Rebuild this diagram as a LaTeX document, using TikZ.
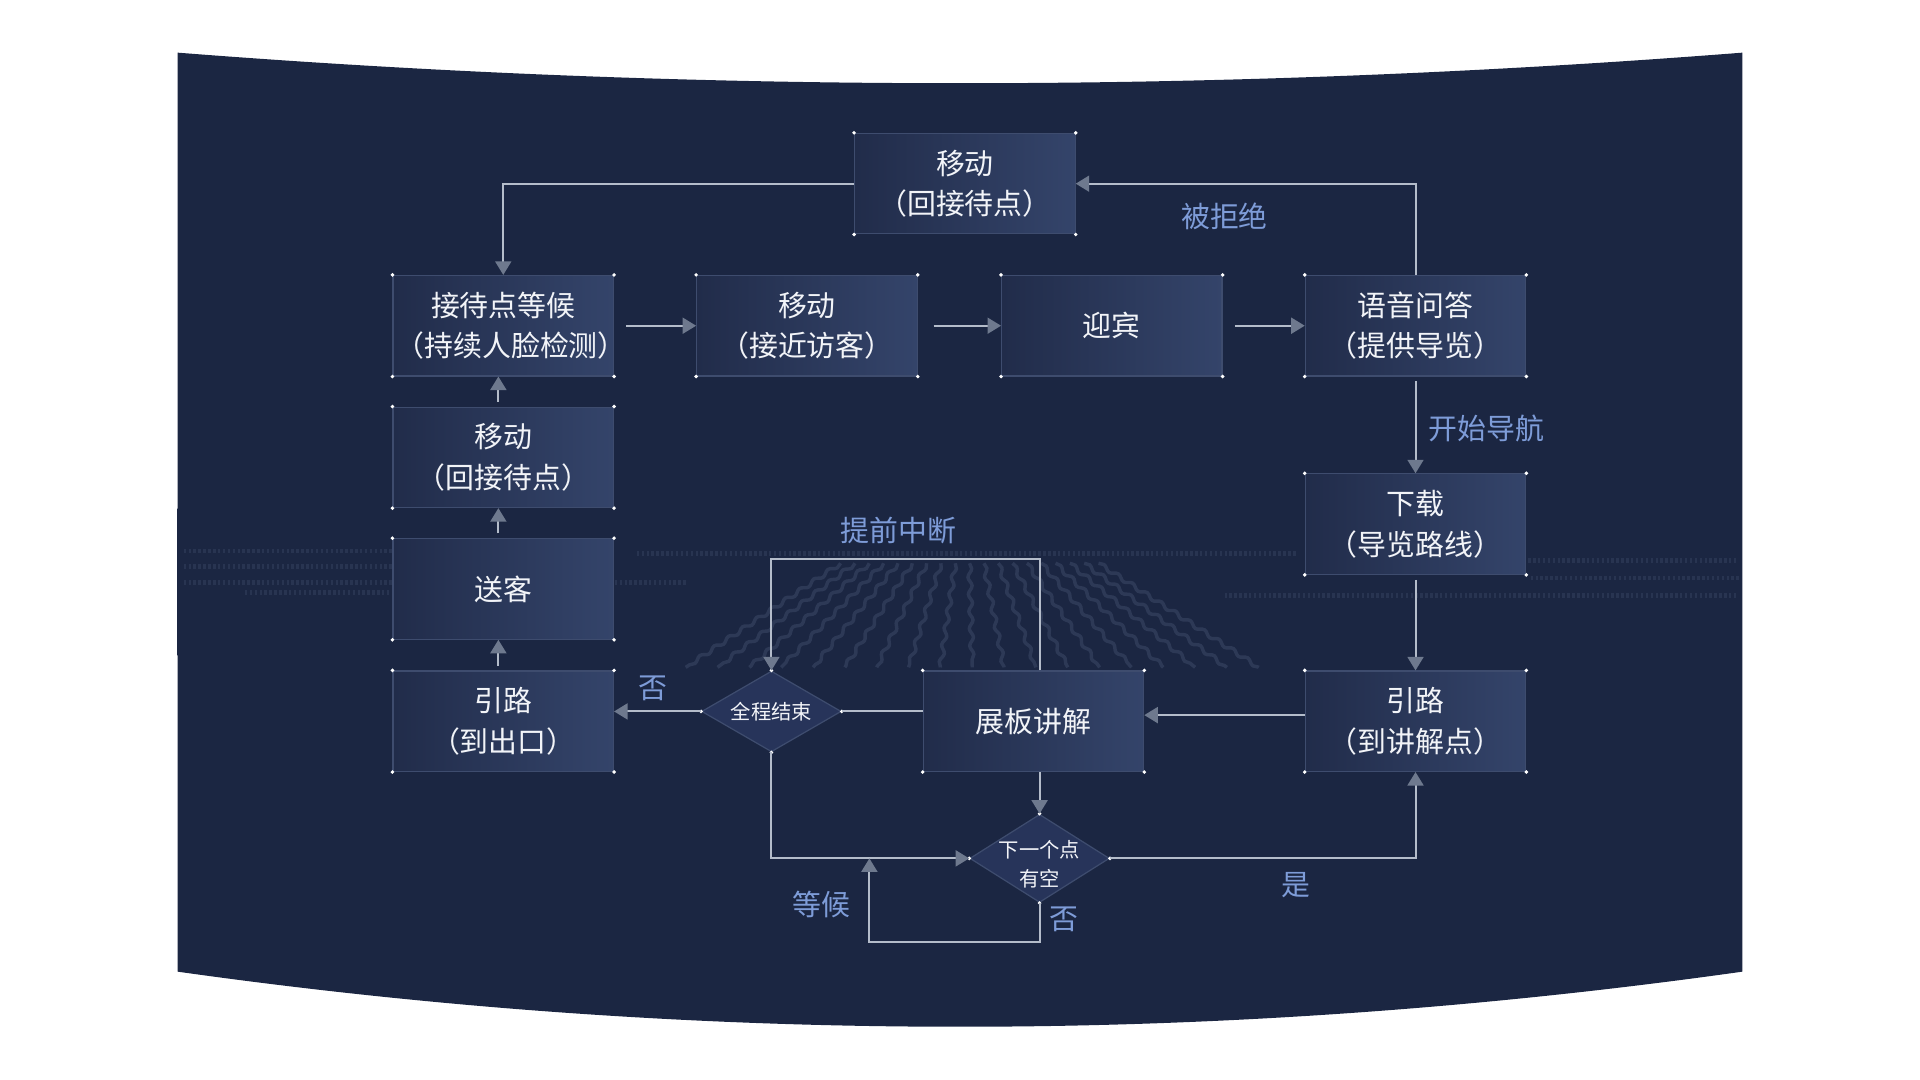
\documentclass[tikz,border=0pt]{standalone}
\usepackage{fontspec}
\setmainfont{Noto Sans CJK SC}
\usetikzlibrary{arrows.meta,shapes.geometric,calc,decorations.pathmorphing}
\definecolor{bgnavy}{HTML}{1B2642}
\definecolor{bandc}{HTML}{2D3B5C}
\definecolor{boxA}{HTML}{212C4A}
\definecolor{boxB}{HTML}{34446A}
\definecolor{boxD}{HTML}{27345A}
\definecolor{boxline}{HTML}{3E4C6E}
\definecolor{linec}{HTML}{B4BCCA}
\definecolor{tipc}{HTML}{6E798E}
\definecolor{lblc}{HTML}{7E9CD8}
\definecolor{txtc}{HTML}{F2F4F8}
\definecolor{streak}{HTML}{8DA0C4}
\begin{document}
\begin{tikzpicture}[x=0.5pt,y=-0.5pt,
  stepbox/.style={rectangle, draw=boxline, line width=0.5pt, left color=boxA, right color=boxB,
    minimum width=90pt, minimum height=41pt, text width=88pt, inner sep=0pt, align=center, text=txtc,
    font=\fontsize{11.8pt}{16.5pt}\selectfont},
  decide/.style={diamond, draw=boxline, line width=0.5pt, fill=boxD,
    minimum width=57pt, minimum height=35pt, inner sep=0pt},
  dtext/.style={text=txtc, align=center, inner sep=0pt, font=\fontsize{8.3pt}{12pt}\selectfont},
  conn/.style={draw=linec, line width=0.8pt, -{Triangle[length=5.5pt,width=6.5pt,color=tipc]}},
  plainline/.style={draw=linec, line width=0.8pt},
  lbl/.style={text=lblc, inner sep=0pt, font=\fontsize{11.8pt}{14pt}\selectfont}
]
\useasboundingbox (0,0) rectangle (1568,882);
% background panel
\fill[bgnavy] (145,43) .. controls (571,76.3) and (997,76.3) .. (1423,43) -- (1423,793.5)
  .. controls (997,853.5) and (571,853.5) .. (145,793.5) -- cycle;
\begin{scope}
\clip (145,43) .. controls (571,76.3) and (997,76.3) .. (1423,43) -- (1423,793.5)
  .. controls (997,853.5) and (571,853.5) .. (145,793.5) -- cycle;
\shade[top color=bgnavy, middle color=bandc, bottom color=bgnavy] (145,415) rectangle (1423,535);
\foreach \y/\a/\b in {450/150/330, 463/150/320, 476/150/560, 484/200/470, 458/1240/1420, 472/1250/1420, 486/1000/1420, 452/520/1060}
  \draw[streak, opacity=0.12, line width=2pt, dash pattern=on 1pt off 1pt] (\a,\y) -- (\b,\y);
\foreach \i in {0,...,18} {
  \pgfmathsetmacro\bx{560+\i*26}
  \pgfmathsetmacro\tx{790+(\bx-790)*0.45}
  \draw[streak, opacity=0.16, line width=1.4pt, decorate, decoration={snake, amplitude=0.8pt, segment length=7pt}] (\tx,460) -- (\bx,545);
}
\end{scope}

% nodes
\node[stepbox] (mvTop) at (788,150) {移动\\（回接待点）};
\node[stepbox] (wait) at (411,266) {接待点等候\\（持续人脸检测）};
\node[stepbox] (approach) at (659,266) {移动\\（接近访客）};
\node[stepbox] (greet) at (908,266) {迎宾};
\node[stepbox] (qa) at (1156,266) {语音问答\\（提供导览）};
\node[stepbox] (mvBack) at (411,373.5) {移动\\（回接待点）};
\node[stepbox] (send) at (411,481) {送客};
\node[stepbox] (exit) at (411,589) {引路\\（到出口）};
\node[stepbox] (dl) at (1156,428) {下载\\（导览路线）};
\node[stepbox] (guide) at (1156,589) {引路\\（到讲解点）};
\node[stepbox] (board) at (844,589) {展板讲解};
\node[decide, minimum height=33pt, label={[dtext]center:全程结束}] (endD) at (630,581) {};
\node[decide, minimum height=36pt, label={[dtext, yshift=-2.5pt]center:下一个点\\有空}] (nextD) at (849,701) {};
\coordinate (waitJoin) at (710,701);

% corner dots
\foreach \n in {mvTop,wait,approach,greet,qa,mvBack,send,exit,dl,guide,board}
  \foreach \a in {north west,north east,south west,south east}
    \fill[white] (\n.\a) circle (0.8pt);
\foreach \n in {endD,nextD}
  \foreach \a in {north,south,east,west}
    \fill[white] (\n.\a) circle (0.8pt);

% connectors
\draw[conn] (mvTop.west) -| (wait.north);
\draw[conn] (qa.north) |- (mvTop.east);
\draw[conn, shorten <=5pt] (wait.east) -- (approach.west);
\draw[conn, shorten <=6.5pt] (approach.east) -- (greet.west);
\draw[conn, shorten <=5pt] (greet.east) -- (qa.west);
\draw[conn, shorten <=2pt] (qa.south) -- (dl.north);
\draw[conn, shorten <=2pt] (dl.south) -- (guide.north);
\draw[conn] ($(guide.west)+(0,-5)$) -- ($(board.east)+(0,-5)$);
\draw[plainline] (board.west |- endD.east) -- (endD.east);
\draw[conn] (endD.west) -- (endD.west -| exit.east);
\draw[conn] (board.north -| nextD.north) -- ++(0,-91) -| (endD.north);
\draw[conn] (endD.south) |- (nextD.west);
\draw[conn] (board.south -| nextD.north) -- (nextD.north);
\draw[conn] (nextD.east) -| (guide.south);
\draw[conn] (nextD.south) -- ++(0,32) -| (waitJoin);
\draw[conn, shorten <=2pt] ($(exit.north)+(-4,0)$) -- ($(send.south)+(-4,0)$);
\draw[conn, shorten <=2pt] ($(send.north)+(-4,0)$) -- ($(mvBack.south)+(-4,0)$);
\draw[conn, shorten <=2pt] ($(mvBack.north)+(-4,0)$) -- ($(wait.south)+(-4,0)$);

% labels
\node[lbl] (lRej) at (1000,177) {被拒绝};
\node[lbl] (lNav) at (1214,350) {开始导航};
\node[lbl] (lStop) at (734,433) {提前中断};
\node[lbl] (lNo1) at (533,562) {否};
\node[lbl] (lYes) at (1058,723) {是};
\node[lbl] (lWait) at (671,739) {等候};
\node[lbl] (lNo2) at (869,751) {否};
\end{tikzpicture}
\end{document}
